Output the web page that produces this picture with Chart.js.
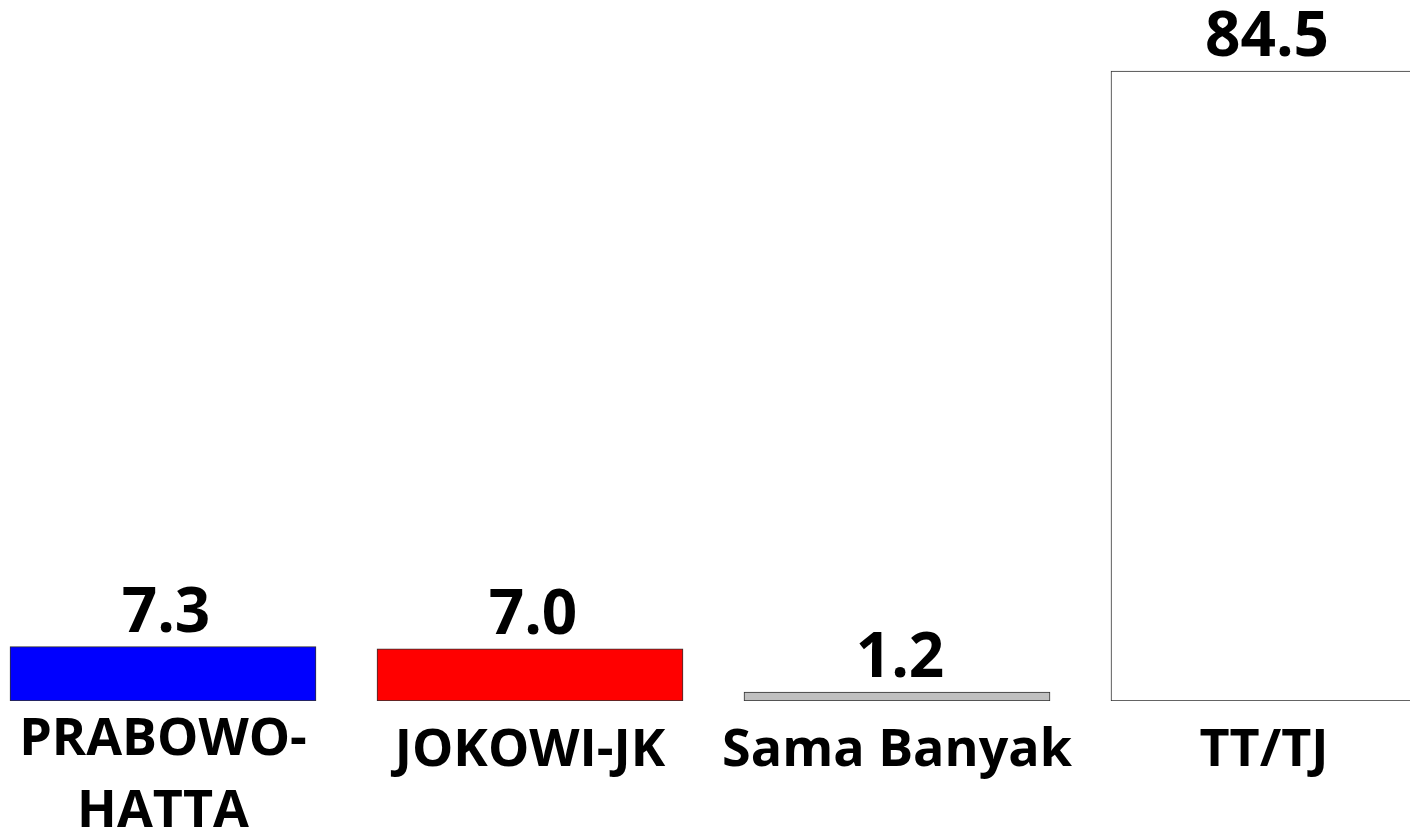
<!DOCTYPE html>
<html>
<head>
<meta charset="utf-8">
<script src="https://cdn.jsdelivr.net/npm/chart.js@4/dist/chart.umd.min.js"></script>
<style>
  html, body { margin: 0; padding: 0; background: #ffffff; overflow: hidden; width: 1410px; height: 835px; }
  #wrap { position: absolute; left: -21px; top: 0; width: 1469px; height: 835px; }
</style>
</head>
<body>
<div id="wrap"><canvas id="c" width="1469" height="835"></canvas></div>
<script>
const categories = [['PRABOWO-', 'HATTA'], 'JOKOWI-JK', 'Sama Banyak', 'TT/TJ'];
const values = [7.3, 7.0, 1.2, 84.5];
const barColors = ['#0000ff', '#ff0000', '#c0c0c0', '#ffffff'];

const valueLabelPlugin = {
  id: 'valueLabels',
  afterDatasetsDraw(chart) {
    const ctx = chart.ctx;
    const meta = chart.getDatasetMeta(0);
    ctx.save();
    ctx.font = 'bold 62px "Open Sans"';
    ctx.fillStyle = '#000000';
    ctx.textAlign = 'center';
    ctx.textBaseline = 'alphabetic';
    meta.data.forEach((bar, i) => {
      ctx.fillText(values[i].toFixed(1), bar.x + 3, bar.y - 15);
    });
    ctx.restore();
  }
};

new Chart(document.getElementById('c'), {
  type: 'bar',
  data: {
    labels: categories,
    datasets: [{
      data: values,
      backgroundColor: barColors,
      borderColor: '#303030',
      borderWidth: 1,
      borderSkipped: false,
      barThickness: 306
    }]
  },
  options: {
    responsive: false,
    devicePixelRatio: 1,
    animation: false,
    layout: { padding: { left: 0.5, right: 0.5, top: 0, bottom: 0 } },
    plugins: { legend: { display: false }, tooltip: { enabled: false } },
    scales: {
      x: {
        grid: { display: false, drawTicks: false },
        border: { display: false },
        ticks: {
          color: '#000000',
          padding: 3,
          autoSkip: false,
          maxRotation: 0,
          minRotation: 0,
          font: (ctx) => {
            const multi = Array.isArray(categories[ctx.index]);
            return { family: '"Open Sans"', weight: 'bold', size: 52, lineHeight: multi ? '72px' : '94px' };
          }
        },
        afterFit: (scale) => { scale.height = 134; }
      },
      y: {
        display: false,
        min: 0,
        max: 94.02
      }
    }
  },
  plugins: [valueLabelPlugin]
});
</script>
</body>
</html>
